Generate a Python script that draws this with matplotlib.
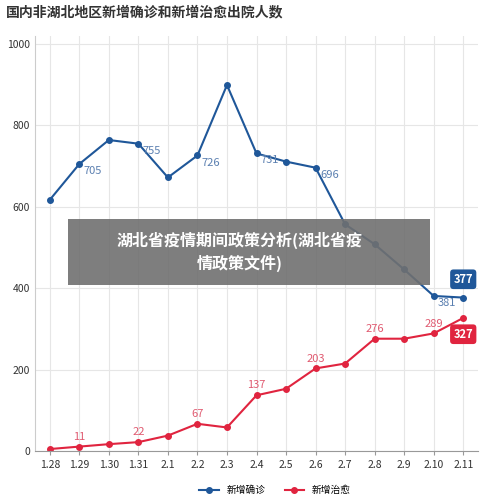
import matplotlib
matplotlib.use("Agg")
import matplotlib.pyplot as plt
plt.rcParams['font.family'] = ['Noto Sans CJK SC', 'DejaVu Sans']

dates = ["1.28","1.29","1.30","1.31","2.1","2.2","2.3","2.4","2.5","2.6","2.7","2.8","2.9","2.10","2.11"]
confirmed = [617, 705, 764, 755, 672, 726, 899, 731, 711, 696, 557, 508, 446, 381, 377]
cured = [5, 11, 17, 22, 38, 67, 58, 137, 153, 203, 215, 276, 276, 289, 327]
conf_labels = {1: 705, 3: 755, 5: 726, 7: 731, 9: 696, 13: 381}
cure_labels = {1: 11, 3: 22, 5: 67, 7: 137, 9: 203, 11: 276, 13: 289}
blue, red = "#1f5799", "#e0243f"

fig = plt.figure(figsize=(5.0, 5.04), dpi=100)
ax = fig.add_axes([0.07, 0.105, 0.886, 0.824])
x = list(range(len(dates)))
ax.plot(x, confirmed, color=blue, marker='o', ms=4, lw=1.5, label="新增确诊")
ax.plot(x, cured, color=red, marker='o', ms=4, lw=1.5, label="新增治愈")
for i, v in conf_labels.items():
    ax.text(i + 0.15, v - 5, str(v), color="#5a7fb0", fontsize=8, va='top')
for i, v in cure_labels.items():
    ax.text(i, v + 12, str(v), color="#e05a70", fontsize=8, ha='center', va='bottom')
ax.text(14, confirmed[-1] + 45, str(confirmed[-1]), color='white', fontsize=8, fontweight='bold',
        ha='center', va='center', bbox=dict(boxstyle='round,pad=0.3', fc=blue, ec='none'))
ax.text(14, cured[-1] - 40, str(cured[-1]), color='white', fontsize=8, fontweight='bold',
        ha='center', va='center', bbox=dict(boxstyle='round,pad=0.3', fc=red, ec='none'))
ax.set_xticks(x)
ax.set_xticklabels(dates, fontsize=7.5, color="#333333")
ax.set_ylim(0, 1020)
ax.set_xlim(-0.5, 14.5)
ax.set_yticks(range(0, 1001, 200))
ax.tick_params(axis='y', labelsize=7.5, colors="#333333", length=0)
ax.tick_params(axis='x', length=3, colors="#999999", labelcolor="#333333")
ax.grid(axis='both', color="#e6e6e6", lw=0.8)
ax.set_axisbelow(True)
for s in ['top', 'right']:
    ax.spines[s].set_visible(False)
ax.spines['left'].set_color("#cccccc")
ax.spines['bottom'].set_color("#999999")
fig.text(0.012, 0.975, "国内非湖北地区新增确诊和新增治愈出院人数", fontsize=10, fontweight='bold',
         color="#333333", va='center')
fig.legend(loc='lower center', bbox_to_anchor=(0.55, 0.0), ncol=2, frameon=False, fontsize=7)
fig.patches.append(plt.Rectangle((0.136, 0.435), 0.724, 0.13, transform=fig.transFigure,
                                 fc="#707070", alpha=0.9, ec='none'))
fig.text(0.48, 0.5, "湖北省疫情期间政策分析(湖北省疫\n情政策文件)", fontsize=11.5, fontweight='bold',
         color='white', ha='center', va='center', linespacing=1.4)
fig.savefig("out.png", dpi=100)
